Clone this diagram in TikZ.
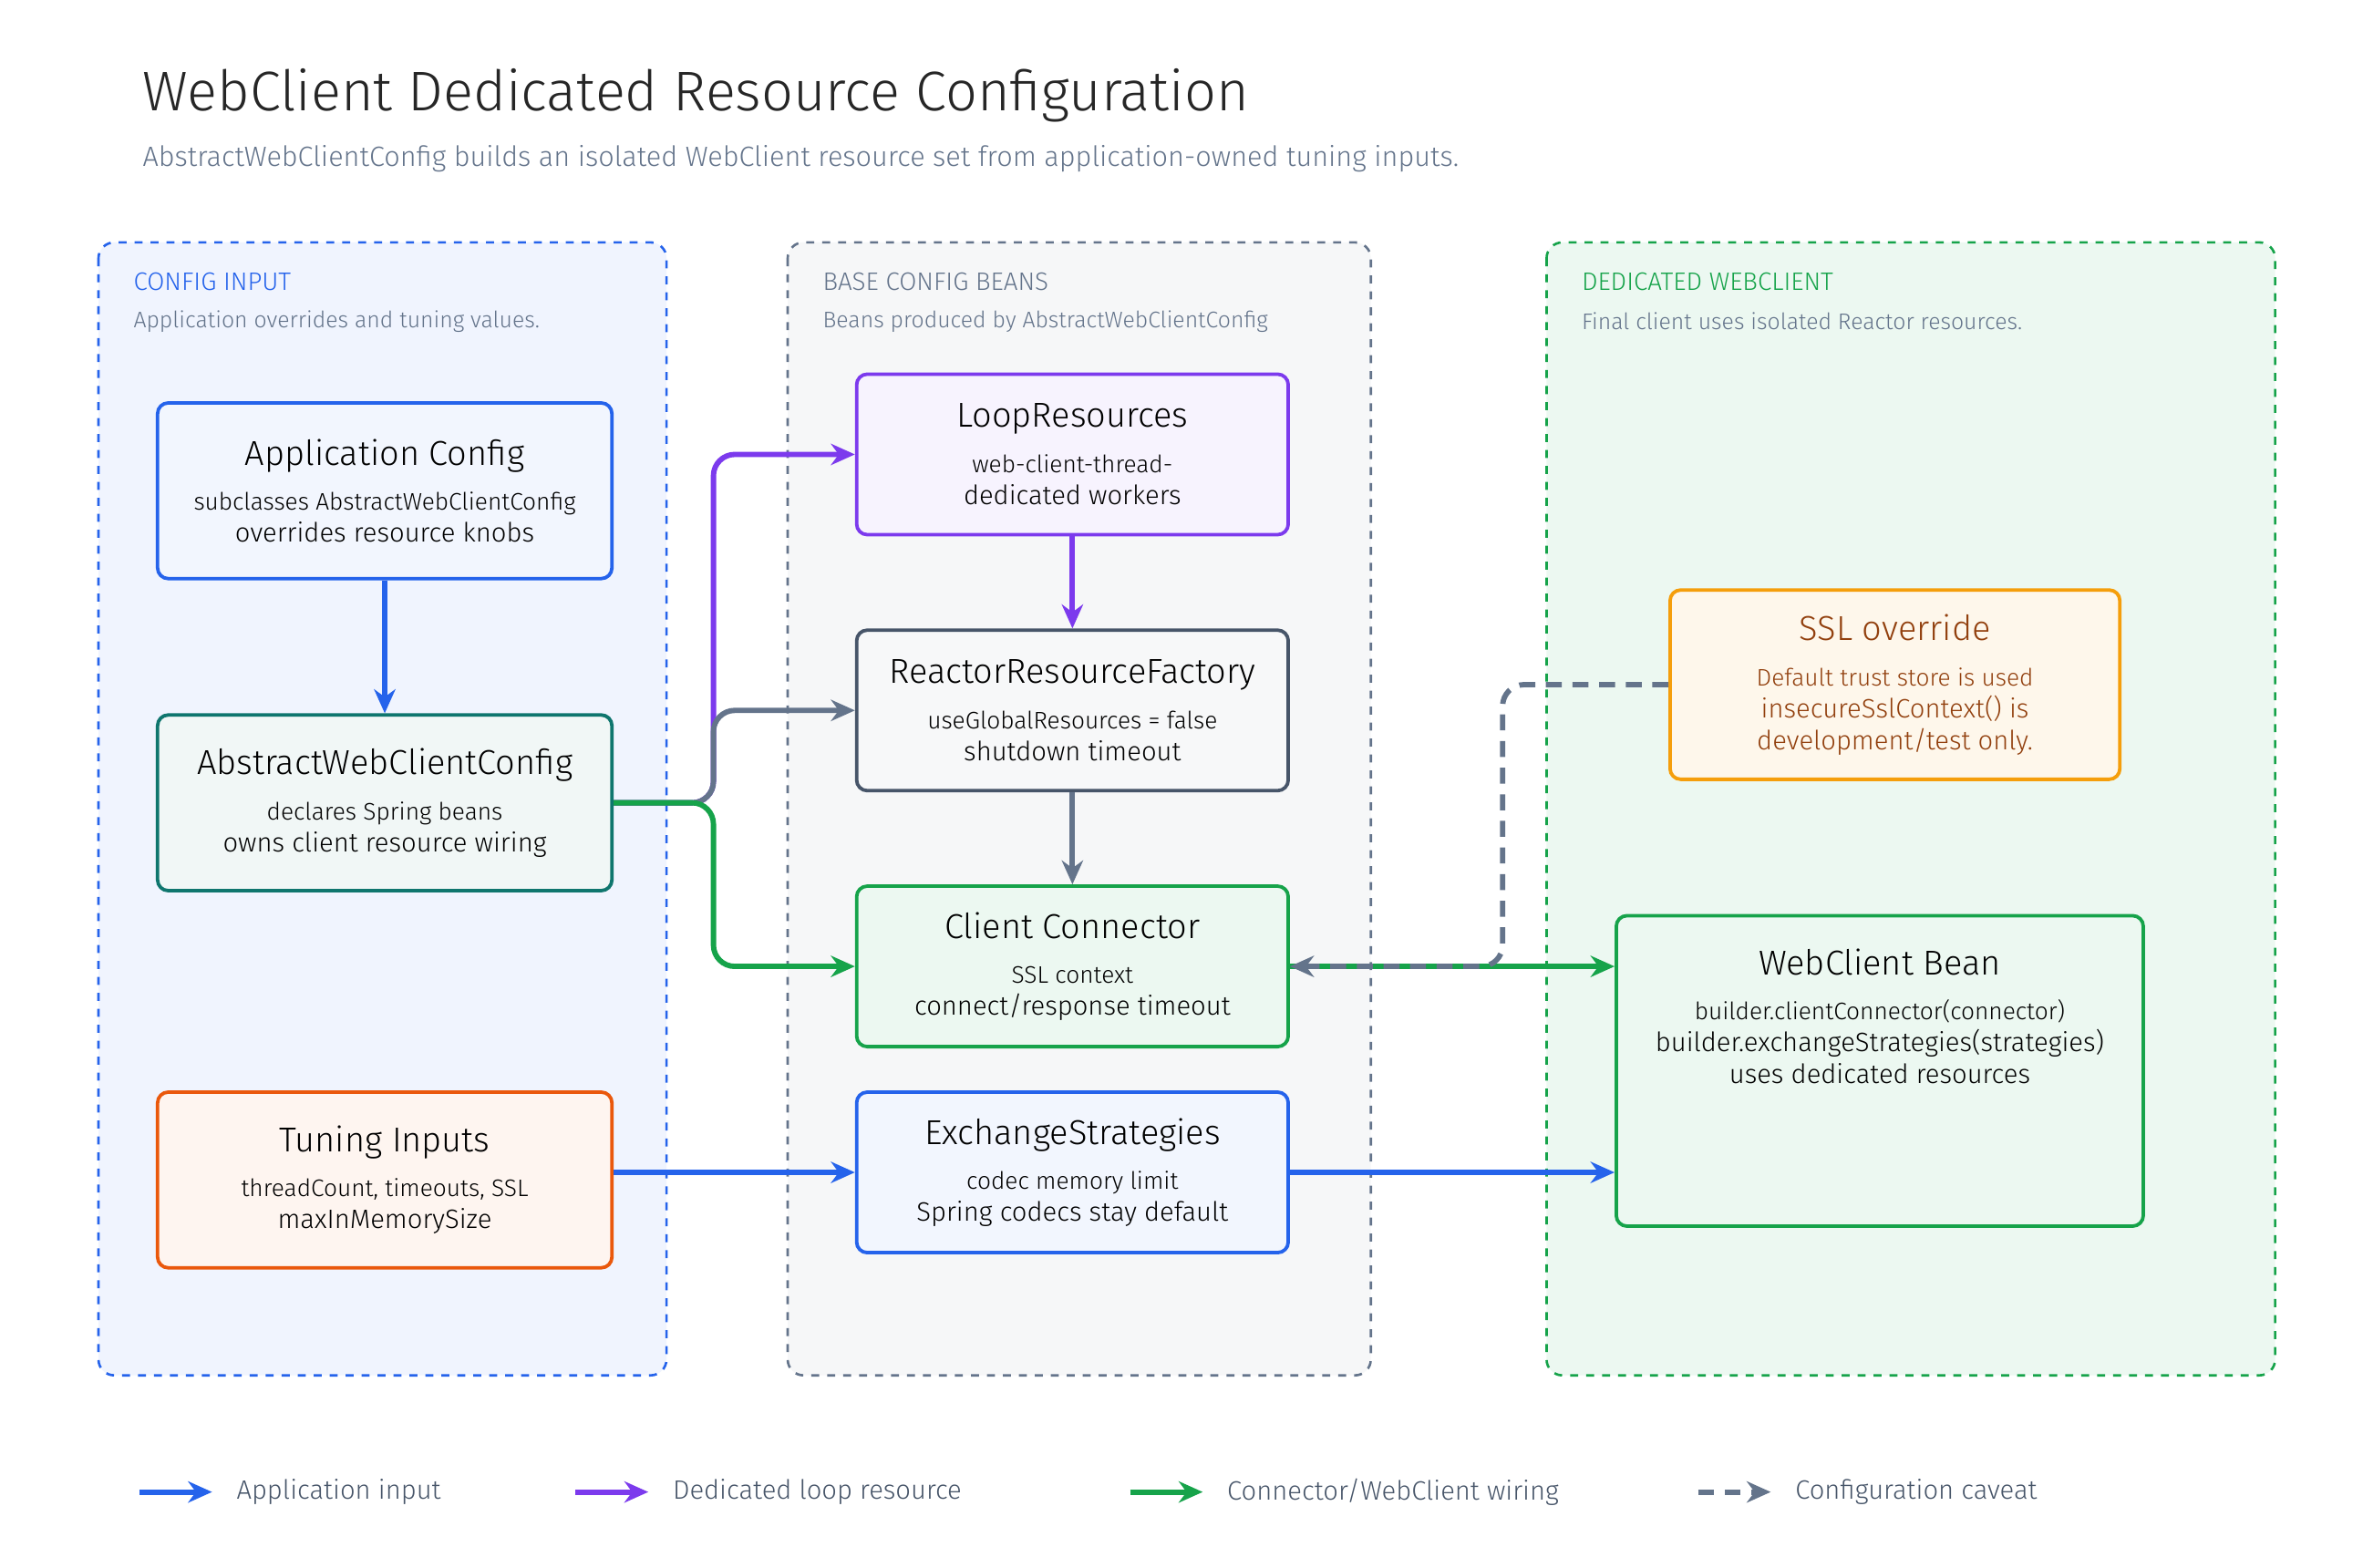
\documentclass[tikz,border=0pt]{standalone}
\usepackage{fontspec}
\setmainfont{Fira Sans Light}
\usetikzlibrary{arrows.meta,positioning}
\definecolor{cblue}{HTML}{2563EB}
\definecolor{cpurple}{HTML}{7C3AED}
\definecolor{cgreen}{HTML}{16A34A}
\definecolor{cteal}{HTML}{0F766E}
\definecolor{corange}{HTML}{EA580C}
\definecolor{camber}{HTML}{F59E0B}
\definecolor{cgray}{HTML}{64748B}
\definecolor{cdark}{HTML}{475569}
\definecolor{cbrown}{HTML}{92400E}
\tikzset{
  panel/.style={draw, dashed, rounded corners=6pt, line width=0.9pt},
  box/.style={draw, rounded corners=4pt, line width=1.3pt, minimum width=5.7cm, minimum height=2.12cm, align=center},
  bigbox/.style={box, minimum width=6cm, minimum height=2.32cm},
  conn/.style={-{Stealth[length=9pt,width=8pt]}, line width=2pt, rounded corners=8pt},
  paneltitle/.style={anchor=west, font=\fontsize{9.5}{11}\selectfont},
  panelnote/.style={anchor=west, font=\fontsize{8.5}{10}\selectfont, text=cgray}
}
\newcommand{\boxhead}{\fontsize{13}{18}\selectfont}
\newcommand{\boxbody}{\fontsize{9}{12}\selectfont}
\begin{document}
\begin{tikzpicture}[x=0.02cm,y=-0.02cm]
  \useasboundingbox (0,0) rectangle (1560,1035);
  \fill[white] (0,0) rectangle (1560,1035);
  % Title
  \node[anchor=west, font=\fontsize{21}{26}\selectfont, text=black!85] (title) at (88,63) {WebClient Dedicated Resource Configuration};
  \node[anchor=west, font=\fontsize{10.5}{12}\selectfont, text=cgray] (subtitle) at (88,105) {AbstractWebClientConfig builds an isolated WebClient resource set from application-owned tuning inputs.};

  % Panels
  \draw[panel, cblue, fill=cblue!7] (65,160) rectangle (440,908);
  \draw[panel, cgray, fill=cgray!6] (520,160) rectangle (905,908);
  \draw[panel, cgreen, fill=cgreen!8] (1021,160) rectangle (1502,908);
  \node[paneltitle, text=cblue] (pin) at (82,186) {CONFIG INPUT};
  \node[panelnote] (pinn) at (82,212) {Application overrides and tuning values.};
  \node[paneltitle, text=cgray] (pbase) at (537,186) {BASE CONFIG BEANS};
  \node[panelnote] (pbasen) at (537,212) {Beans produced by AbstractWebClientConfig};
  \node[paneltitle, text=cgreen] (pwc) at (1038,186) {DEDICATED WEBCLIENT};
  \node[panelnote] (pwcn) at (1038,212) {Final client uses isolated Reactor resources.};

  % Nodes
  \node[bigbox, draw=cblue, fill=cblue!6] (appcfg) at (254,324) {\boxhead Application Config\\[5pt]\boxbody subclasses AbstractWebClientConfig\\overrides resource knobs};
  \node[bigbox, draw=cteal, fill=cteal!6] (abscfg) at (254,530) {\boxhead AbstractWebClientConfig\\[5pt]\boxbody declares Spring beans\\owns client resource wiring};
  \node[bigbox, draw=corange, fill=corange!6] (tuning) at (254,779) {\boxhead Tuning Inputs\\[5pt]\boxbody threadCount, timeouts, SSL\\maxInMemorySize};
  \node[box, draw=cpurple, fill=cpurple!6] (loop) at (708,300) {\boxhead LoopResources\\[5pt]\boxbody web-client-thread-\\dedicated workers};
  \node[box, draw=cdark, fill=cgray!5] (factory) at (708,469) {\boxhead ReactorResourceFactory\\[5pt]\boxbody useGlobalResources = false\\shutdown timeout};
  \node[box, draw=cgreen, fill=cgreen!8] (connector) at (708,638) {\boxhead Client Connector\\[5pt]\boxbody SSL context\\connect/response timeout};
  \node[box, draw=cblue, fill=cblue!6] (strategies) at (708,774) {\boxhead ExchangeStrategies\\[5pt]\boxbody codec memory limit\\Spring codecs stay default};
  \node[box, draw=camber, fill=camber!8, text=cbrown, minimum width=5.94cm, minimum height=2.5cm] (ssl) at (1251,452) {\boxhead SSL override\\[5pt]\boxbody Default trust store is used\\insecureSslContext() is\\development/test only.};
  \node[box, draw=cgreen, fill=cgreen!8, minimum width=6.96cm, minimum height=4.1cm] (webclient) at (1241,707) {};
  \node[anchor=north, align=center] (wclabel) at (1241,620) {\boxhead WebClient Bean\\[5pt]\boxbody builder.clientConnector(connector)\\builder.exchangeStrategies(strategies)\\uses dedicated resources};

  % Connectors
  \draw[conn, cblue] (appcfg) -- (abscfg);
  \draw[conn, cpurple] (abscfg.east) -| (471,400) |- (loop.west);
  \draw[conn, cgray] (abscfg.east) -| (471,500) |- (factory.west);
  \draw[conn, cgreen] (abscfg.east) -| (471,600) |- (connector.west);
  \draw[conn, cpurple] (loop) -- (factory);
  \draw[conn, cgray] (factory) -- (connector);
  \draw[conn, cgreen] (connector.east) -- (connector.east -| webclient.west);
  \draw[conn, cblue] (strategies.west -| tuning.east) -- (strategies.west);
  \draw[conn, cblue] (strategies.east) -- (strategies.east -| webclient.west);
  \draw[conn, cgray, dash pattern=on 6pt off 4pt] (ssl.west) -| (992,600) |- (connector.east);

  % Legend
  \coordinate (l1a) at (92,985); \coordinate (l1b) at (140,985);
  \draw[conn, cblue] (l1a) -- (l1b);
  \node[anchor=west, font=\fontsize{10}{12}\selectfont, text=cdark] (leg1) at (150,985) {Application input};
  \coordinate (l2a) at (380,985); \coordinate (l2b) at (428,985);
  \draw[conn, cpurple] (l2a) -- (l2b);
  \node[anchor=west, font=\fontsize{10}{12}\selectfont, text=cdark] (leg2) at (438,985) {Dedicated loop resource};
  \coordinate (l3a) at (746,985); \coordinate (l3b) at (794,985);
  \draw[conn, cgreen] (l3a) -- (l3b);
  \node[anchor=west, font=\fontsize{10}{12}\selectfont, text=cdark] (leg3) at (804,985) {Connector/WebClient wiring};
  \coordinate (l4a) at (1121,985); \coordinate (l4b) at (1169,985);
  \draw[conn, cgray, dash pattern=on 6pt off 4pt] (l4a) -- (l4b);
  \node[anchor=west, font=\fontsize{10}{12}\selectfont, text=cdark] (leg4) at (1179,985) {Configuration caveat};
\end{tikzpicture}
\end{document}
